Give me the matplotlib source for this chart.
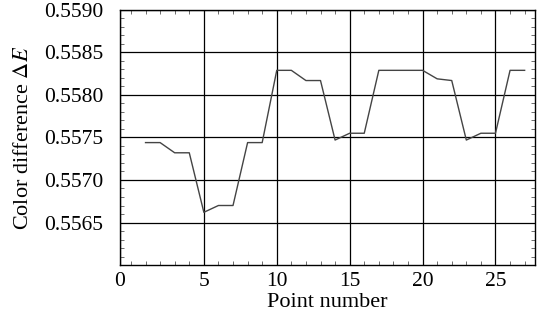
import matplotlib
matplotlib.use("Agg")
import matplotlib.pyplot as plt
from matplotlib.ticker import MultipleLocator, FixedLocator

plt.rcParams['font.family'] = 'Liberation Serif'
plt.rcParams['mathtext.fontset'] = 'stix'

point_number = list(range(1, 28))
color_diff = [0.55744, 0.55744, 0.55732, 0.55732, 0.55662, 0.55670, 0.55670,
              0.55744, 0.55744, 0.55829, 0.55829, 0.55817, 0.55817, 0.55747,
              0.55755, 0.55755, 0.55829, 0.55829, 0.55829, 0.55829, 0.55819,
              0.55817, 0.55747, 0.55755, 0.55755, 0.55829, 0.55829]

x_ticks = [5, 10, 15, 20, 25]
y_ticks = [0.5565, 0.5570, 0.5575, 0.5580, 0.5585, 0.5590]

fig = plt.figure(figsize=(5.48, 3.22), dpi=100)
ax = fig.add_axes([0.219, 0.177, 0.757, 0.792])
ax.plot(point_number, color_diff, color="#444444", lw=1.0)

x0 = -0.75
ax.set_xlim(x0, 27.7)
ax.set_ylim(0.5560, 0.5590)

ax.xaxis.set_major_locator(FixedLocator([x0] + x_ticks))
ax.set_xticklabels(["0"] + [str(t) for t in x_ticks])
ax.xaxis.set_minor_locator(MultipleLocator(1))
ax.yaxis.set_major_locator(FixedLocator(y_ticks))
ax.set_yticklabels(["%.4f" % v for v in y_ticks])
ax.yaxis.set_minor_locator(MultipleLocator(0.0001))

ax.grid(True, which="major", color="black", lw=0.9)
ax.tick_params(which="both", direction="in", top=True, right=True, labelsize=15.5)
ax.tick_params(which="major", length=0)
ax.tick_params(axis="x", which="major", pad=5)
ax.tick_params(axis="y", which="major", pad=12)
ax.tick_params(which="minor", length=3, width=0.6, color="#555555")
for s in ax.spines.values():
    s.set_linewidth(1.0)

ax.set_xlabel("Point number", fontsize=16, labelpad=1.5)
ax.set_ylabel(r"Color difference $\Delta E$", fontsize=16, labelpad=8)

fig.savefig("out.png", dpi=100)
